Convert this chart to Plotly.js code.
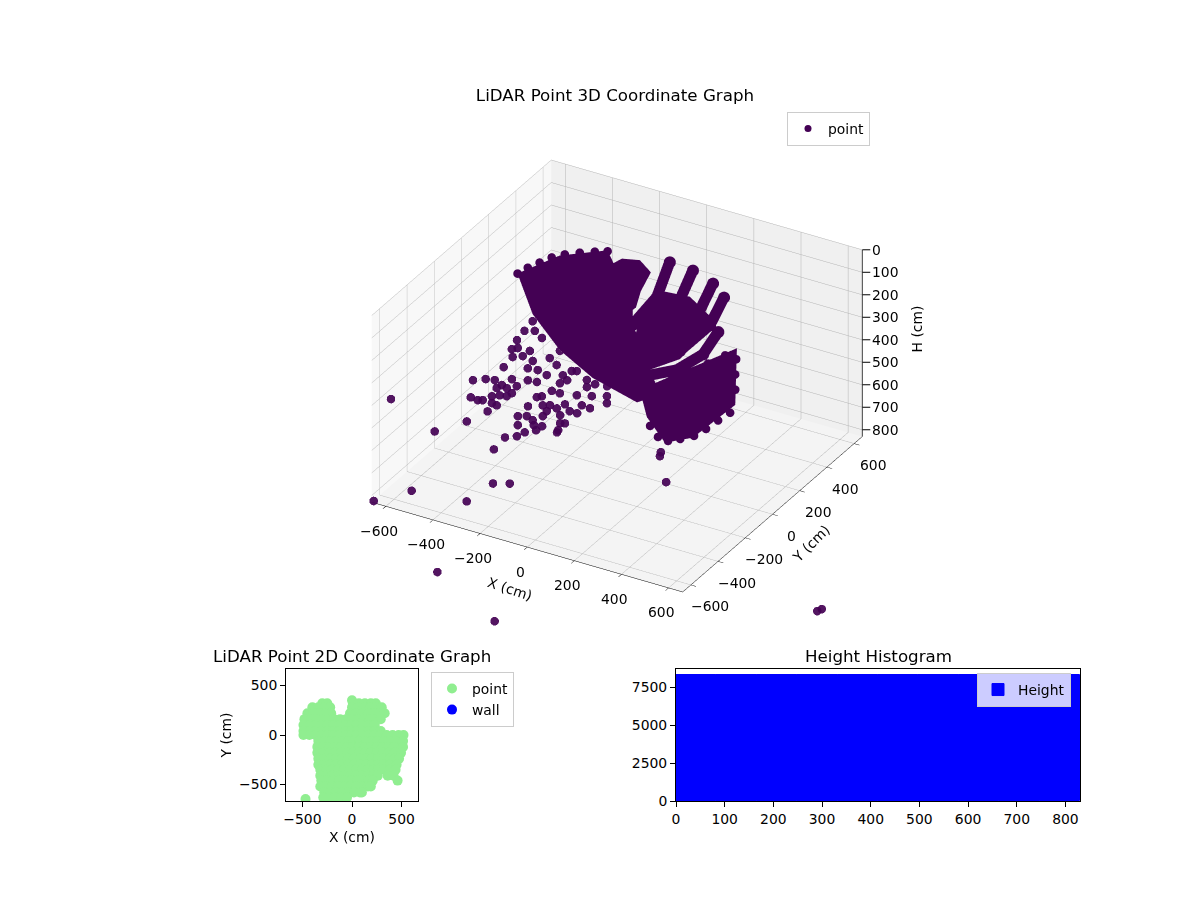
<!DOCTYPE html>
<html>
<head>
<meta charset="utf-8">
<script src="https://cdn.plot.ly/plotly-3.0.1.min.js"></script>
<style>html,body{margin:0;padding:0;background:#fff}</style>
</head>
<body>
<div id="chart" style="width:1200px;height:900px"></div>
<script>
//scattered points under the fan
const looseX = [-470,-397,-506,-460,-428,-412,-469,-362,-395,-373,-351,-436,-405,-398,-372,-372,-347,-384,-346,-340,-329,-294,-448,-451,-478,-463,-490,-494,-499,-461,-416,-421,-414,-373,-367,-329,-284,-328,-284,-317,-232,-216,-200,-203,-216,-139,-100,-117,-55,-24,-2,-73,-124,-77,-41,-247,-234,-218,-185,-203,-180,-148,-171,-115,-134,-97,-67,-168,-90,-74,-247,-249,-220,-221,-188,-169,-139,-146,-75,-72,-176,-189,-224,-222,184,194,204,-342,-288,-574,-655,-360,-590];
const looseY = [-527,-417,-183,-279,-283,-274,-154,-325,-236,-274,-277,-144,-184,-158,-166,-218,-210,-108,-138,-185,-86,-80,-58,13,54,71,113,175,243,194,168,36,76,26,-21,-14,-25,73,47,129,3,41,50,-16,-46,19,11,-19,22,-33,-71,-59,-81,-126,-128,-162,-148,-102,-100,-195,-182,-187,-221,-219,-151,-180,-178,-255,-263,-255,-227,-298,-283,-347,-295,-319,-311,-343,-304,-317,-374,-409,-436,-521,3,-21,7,-320,-290,-516,-655,-482,-640];
const looseH = [527,518,490,502,503,503,489,511,500,504,506,489,494,492,494,499,499,488,492,497,488,488,480,473,468,467,462,455,449,455,459,472,468,474,480,480,483,472,476,466,483,479,479,486,488,484,487,489,488,494,499,495,495,502,503,498,498,493,495,504,503,505,507,509,502,506,507,510,514,514,505,512,511,518,513,517,517,520,519,521,522,525,527,535,699,701,828,828,828,828,825,828,360];

//edge points of the dense parts: fan rim, block top, block right, block bottom
const edgeX = [-520,-505,-483,-460,-427,-385,-340,-299, 195,165,132,99, 207,216,229, 214,200,187,170,135,102,57,-3];
const edgeY = [169,218,267,316,355,392,425,448, 457,383,308,232, 517,494,472, 460,396,330,271,230,198,202,248];
const edgeH = [205,200,196,192,189,188,187,185, 503,510,516,522, 548,601,653, 754,759,766,771,774,776,774,767];

//solid parts of the fan: main fan, right side, lower right block, middle wedge
const massX = [-520,-440,-302,-123,-60,-5,37,-12,-126,-213,-414, -60,-57,39,201,202,124,12, 211,242,173,98,-5,-44,132, -243,-230,-166,-93,-66,-31,-41,-178];
const massY = [169,341,453,329,220,228,251,168,40,-51,97, 271,452,468,378,113,-23,95, 516,450,258,182,228,243,329, 391,434,456,410,289,193,130,270];
const massH = [205,191,185,304,317,468,618,624,483,338,316, 312,294,296,311,338,348,332, 498,706,772,777,718,616,514, 193,190,189,197,210,221,227,208];
const massI = [0,0,0,0,0,0,0,0,0, 11,11,11,11,11, 18,18,18,18,18, 25,25,25,25,25,25];
const massJ = [1,2,3,4,5,6,7,8,9, 12,13,14,15,16, 19,20,21,22,23, 26,27,28,29,30,31];
const massK = [2,3,4,5,6,7,8,9,10, 13,14,15,16,17, 20,21,22,23,24, 27,28,29,30,31,32];

//separate arcs at the fan's right side, null splits them
const arcX = [-64,-67,-164,-187,null,36,23,-67,-114,null,142,124,9,-69,null,221,192,70,-11,null,240,261,120,16];
const arcY = [498,409,400,293,null,495,409,381,241,null,459,372,352,214,null,403,351,341,211,null,328,181,232,119];
const arcH = [189,298,445,455,null,194,302,451,463,null,201,309,457,468,null,210,314,460,470,null,318,334,473,480];

//the few points that land outside the box
const strayX = [-195,168,1158,1165];
const strayY = [-983,-1191,-534,-513];
const strayH = [830,830,830,830];

//2D view, one row of points per y
const rowY = [350,320,280,220,160,100,40,0,-60,-120,-180,-240,-300,-350,-410,-460,-520,-580,-630,-646];
const rowX = [
  [0],
  [-300,-250,10,70,130,190,240],
  [-400,-340,-280,-220,0,60,120,180,240,300],
  [-450,-390,-330,-270,-210,-20,40,100,160,220,280,330],
  [-480,-420,-360,-300,-240,-180,-120,-60,0,60,120,180,240,290],
  [-490,-430,-370,-310,-250,-190,-130,-70,-10,50,110,170,230],
  [-490,-430,-370,-310,-250,-190,-130,-70,-10,50,110,170,230,290],
  [-490,-430,-370,-310,-250,-190,-130,-70,-10,50,110,170,230,290,350,410,470,520],
  [-340,-280,-220,-160,-100,-40,20,80,140,200,260,320,380,440,515],
  [-350,-290,-230,-170,-110,-50,10,70,130,190,250,310,370,430,515],
  [-350,-290,-230,-170,-110,-50,10,70,130,190,250,310,370,430,495],
  [-340,-280,-220,-160,-100,-40,20,80,140,200,260,320,380,430,475],
  [-340,-280,-220,-160,-100,-40,20,80,140,200,260,320,380,450],
  [-320,-260,-200,-140,-80,-20,40,100,160,220,260,320,380,440],
  [-320,-260,-200,-140,-80,-20,40,100,160,220,260,360,420],
  [-310,-250,-190,-130,-70,-10,50,110,170,210,460],
  [-320,-260,-200,-140,-80,-20,40,100,160,190],
  [-280,-220,-160,-100,-40,20,80,100],
  [-290,-230,-170,-110,-50],
  [-469]
];
const wallX = [null];
const wallY = [null];

//histogram bins
const binCenters = [41.5,124.5,207.5,290.5,373.5,456.5,539.5,622.5,705.5,788.5];
const binCounts = [8310,8310,8310,8310,8310,8310,8310,8310,8310,8310];

const xyTicks = [-600,-400,-200,0,200,400,600];
const hTicks = [0,100,200,300,400,500,600,700,800];

const flatX = rowX.flat();
const flatY = rowX.flatMap((r, i) => r.map(() => rowY[i]));

const font = {family: 'DejaVu Sans', size: 13.9, color: '#000'};
const titleFont = {family: 'DejaVu Sans', size: 16.7, color: '#000'};
const camera = {eye: {x: 1.126, y: -1.95, z: 1.3}, up: {x: 0, y: 0, z: 1}, center: {x: 0, y: 0, z: 0}, projection: {type: 'orthographic'}};
const purple = '#440154';
const minus = v => String(v).replace('-', '\u2212');

function axis3d(range, vals, pane, showTicks) {
  return {
    range: range, tickmode: 'array', tickvals: vals, showticklabels: false, title: {text: ''},
    showgrid: true, gridcolor: '#b4b4b4', gridwidth: 1, zeroline: false,
    showline: showTicks, linecolor: '#000', linewidth: 1, ticks: showTicks ? 'outside' : '', ticklen: 6, tickcolor: '#000',
    showbackground: true, backgroundcolor: pane, showspikes: false
  };
}
const hidden = {visible: false, showgrid: false, zeroline: false, showbackground: false, showspikes: false};

let traces = [
  {type: 'mesh3d', x: massX, y: massY, z: massH, i: massI, j: massJ, k: massK, color: purple, flatshading: true, lighting: {ambient: 1, diffuse: 0, specular: 0, fresnel: 0}, scene: 'scene', hoverinfo: 'skip'},
  {type: 'scatter3d', mode: 'markers', x: looseX, y: looseY, z: looseH, marker: {size: 5, color: purple, opacity: 0.92, line: {width: 0}}, showlegend: false, scene: 'scene', hoverinfo: 'skip'},
  {type: 'scatter3d', mode: 'markers', x: edgeX, y: edgeY, z: edgeH, marker: {size: 5, color: purple, line: {width: 0}}, showlegend: false, scene: 'scene', hoverinfo: 'skip'},
  {type: 'scatter3d', mode: 'lines+markers', x: arcX, y: arcY, z: arcH, line: {width: 22, color: purple}, marker: {size: 7, color: purple, line: {width: 0}}, showlegend: false, scene: 'scene', hoverinfo: 'skip'},
  {type: 'scatter3d', mode: 'lines', x: [660, 660], y: [660, 660], z: [0, 830], line: {width: 1.5, color: '#000'}, showlegend: false, scene: 'scene', hoverinfo: 'skip'},
  {type: 'scatter3d', mode: 'markers', x: strayX, y: strayY, z: strayH, marker: {size: 5, color: purple, opacity: 0.92, line: {width: 0}}, showlegend: false, scene: 'scene2', hoverinfo: 'skip'},
  {type: 'scatter', mode: 'markers', name: 'point', x: wallX, y: wallY, marker: {size: 7, color: purple}, xaxis: 'x', yaxis: 'y', legend: 'legend', hoverinfo: 'skip'},
  {type: 'scatter', mode: 'markers', name: 'point', x: flatX, y: flatY, marker: {size: 10, color: 'lightgreen'}, xaxis: 'x', yaxis: 'y', legend: 'legend2', hoverinfo: 'skip'},
  {type: 'scatter', mode: 'markers', name: 'wall', x: wallX, y: wallY, marker: {size: 10, color: 'blue'}, xaxis: 'x', yaxis: 'y', legend: 'legend2', hoverinfo: 'skip'},
  {type: 'bar', name: 'Height', x: binCenters, y: binCounts, width: 83, marker: {color: 'blue', line: {width: 1, color: 'blue'}}, xaxis: 'x2', yaxis: 'y2', legend: 'legend3', hoverinfo: 'skip'}
];

//3D tick labels and axis names as annotations so they sit where the picture has them
const floorH = 828;
const sceneNotes = [];
xyTicks.forEach(v => sceneNotes.push({x: v, y: -660, z: floorH, text: minus(v), showarrow: false, font: font, xshift: -7, yshift: -25}));
xyTicks.forEach(v => sceneNotes.push({x: 660, y: v, z: floorH, text: minus(v), showarrow: false, font: font, xshift: 19, yshift: -22}));
hTicks.forEach(v => sceneNotes.push({x: 660, y: 660, z: v, text: String(v), showarrow: true, arrowhead: 0, arrowwidth: 1, arrowcolor: '#000', ax: 8, ay: 0, xanchor: 'left', font: font}));
sceneNotes.push({x: 0, y: -660, z: floorH, text: 'X (cm)', showarrow: false, font: font, textangle: 18, xshift: -17, yshift: -42});
sceneNotes.push({x: 660, y: 0, z: floorH, text: 'Y (cm)', showarrow: false, font: font, textangle: -45, xshift: 38, yshift: -30});
sceneNotes.push({x: 660, y: 660, z: 415, text: 'H (cm)', showarrow: false, font: font, textangle: -90, xshift: 55, yshift: 14});

function axis2d(opts) {
  return Object.assign({showgrid: false, zeroline: false, showline: true, linecolor: '#000', linewidth: 1, mirror: true, ticks: 'outside', ticklen: 5, tickwidth: 1, tickcolor: '#000', tickfont: font}, opts);
}
const legendBase = {bgcolor: 'rgba(255,255,255,0.8)', bordercolor: '#cccccc', borderwidth: 1, font: font, itemclick: false, xanchor: 'left', yanchor: 'top'};
const sceneDomain = {x: [309 / 1200, 925 / 1200], y: [1 - 684 / 900, 1 - 68 / 900]};

let layout = {
  width: 1200, height: 900, margin: {l: 0, r: 0, t: 0, b: 0}, paper_bgcolor: '#fff', plot_bgcolor: '#fff',
  font: font, showlegend: true, bargap: 0,
  title: {text: 'LiDAR Point 3D Coordinate Graph', font: titleFont, x: 615 / 1200, xanchor: 'center', y: 1 - 95 / 900, yanchor: 'middle'},
  scene: {
    domain: sceneDomain, camera: camera, aspectmode: 'manual', aspectratio: {x: 1.166, y: 1.166, z: 0.7},
    xaxis: axis3d([-660, 660], xyTicks, '#f8f8f8', true),
    yaxis: axis3d([-660, 660], xyTicks, '#f0f0f0', true),
    zaxis: axis3d([830, 0], hTicks, '#f4f4f4', false),
    annotations: sceneNotes
  },
  scene2: {
    domain: sceneDomain, camera: camera, aspectmode: 'manual', aspectratio: {x: 2.332, y: 2.332, z: 1.4},
    xaxis: Object.assign({range: [-1320, 1320]}, hidden),
    yaxis: Object.assign({range: [-1320, 1320]}, hidden),
    zaxis: Object.assign({range: [1245, -415]}, hidden)
  },
  xaxis: axis2d({domain: [286 / 1200, 418 / 1200], range: [-666, 666], tickvals: [-500, 0, 500], ticktext: ['\u2212500', '0', '500'], title: {text: 'X (cm)', font: font, standoff: 6}, anchor: 'y'}),
  yaxis: axis2d({domain: [99 / 900, 231 / 900], range: [-666, 666], tickvals: [-500, 0, 500], ticktext: ['\u2212500', '0', '500'], title: {text: 'Y (cm)', font: font, standoff: 4}, anchor: 'x'}),
  xaxis2: axis2d({domain: [676 / 1200, 1080 / 1200], range: [0, 830], tickvals: [0,100,200,300,400,500,600,700,800], anchor: 'y2'}),
  yaxis2: axis2d({domain: [99 / 900, 231 / 900], range: [0, 8684], tickvals: [0,2500,5000,7500], anchor: 'x2'}),
  legend: Object.assign({}, legendBase, {x: 787 / 1200, y: 1 - 112 / 900}),
  legend2: Object.assign({}, legendBase, {x: 431 / 1200, y: 1 - 672 / 900}),
  legend3: Object.assign({}, legendBase, {x: 977 / 1200, y: 1 - 673 / 900}),
  annotations: [
    {text: 'LiDAR Point 2D Coordinate Graph', xref: 'paper', yref: 'paper', x: 352 / 1200, y: 1 - 656 / 900, showarrow: false, xanchor: 'center', yanchor: 'middle', font: titleFont},
    {text: 'Height Histogram', xref: 'paper', yref: 'paper', x: 878 / 1200, y: 1 - 656 / 900, showarrow: false, xanchor: 'center', yanchor: 'middle', font: titleFont}
  ]
};

Plotly.newPlot('chart', traces, layout, {displayModeBar: false});
</script>
</body>
</html>
